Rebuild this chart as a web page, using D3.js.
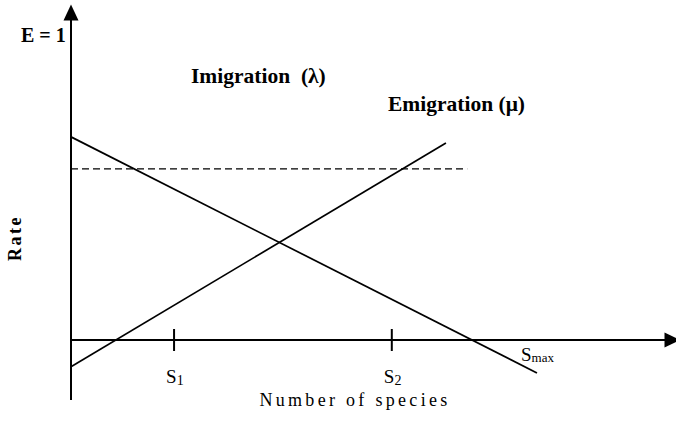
<!DOCTYPE html>
<html>
<head>
<meta charset="utf-8">
<script src="https://cdn.jsdelivr.net/npm/d3@7"></script>
<style>
  body { margin: 0; background: #fff; }
  svg { display: block; font-family: "Liberation Serif", "Times New Roman", serif; }
  .axis { stroke: #000; stroke-width: 2; fill: none; }
  .rate { stroke: #000; stroke-width: 1.7; fill: none; }
  .dash { stroke: #000; stroke-width: 1.4; stroke-dasharray: 7,4; fill: none; }
  .bold { font-weight: bold; }
</style>
</head>
<body>
<div id="chart"></div>
<script>
(function () {
  const width = 676;
  const height = 437;

  // species in units of Smax (Smax = 1), rate in units of E (E = 1)
  const immigration = [{s: 0, r: 0.666}, {s: 1.162, r: -0.108}];
  const emigration = [{s: 0, r: -0.088}, {s: 0.935, r: 0.646}];
  const equilibrium = [{s: 0, r: 0.561}, {s: 0.988, r: 0.561}];

  const tickValues = [0.257, 0.8];
  const tickLabels = [["S", "1"], ["S", "2"]];

  const axisX = [0, 1.52];
  const axisY = [-0.197, 1.1];

  const svg = d3.select("#chart").append("svg")
    .attr("width", width)
    .attr("height", height);

  const x = d3.scaleLinear().domain([0, 1]).range([71, 472]);
  const y = d3.scaleLinear().domain([0, 1]).range([340, 35]);

  const line = d3.line()
    .x(function (d) { return x(d.s); })
    .y(function (d) { return y(d.r); });

  // axes
  svg.append("line")
    .attr("class", "axis")
    .attr("x1", x(0)).attr("x2", x(0))
    .attr("y1", y(axisY[0])).attr("y2", y(axisY[1]) + 10);

  svg.append("line")
    .attr("class", "axis")
    .attr("x1", x(axisX[0])).attr("x2", x(axisX[1]) - 10)
    .attr("y1", y(0)).attr("y2", y(0));

  // arrow heads
  const ty = y(axisY[1]);
  svg.append("path")
    .attr("d", "M" + x(0) + "," + ty + " L" + (x(0) - 7.5) + "," + (ty + 16) +
      " L" + (x(0) + 7.5) + "," + (ty + 16) + " Z")
    .attr("fill", "#000");

  const tx = x(axisX[1]);
  svg.append("path")
    .attr("d", "M" + tx + "," + y(0) + " L" + (tx - 16) + "," + (y(0) - 7.5) +
      " L" + (tx - 16) + "," + (y(0) + 7.5) + " Z")
    .attr("fill", "#000");

  // S1, S2 ticks
  svg.selectAll(".tick")
    .data(tickValues)
    .enter().append("line")
    .attr("class", "axis")
    .attr("stroke-width", 1.6)
    .attr("x1", function (d) { return x(d); })
    .attr("x2", function (d) { return x(d); })
    .attr("y1", y(0) - 11)
    .attr("y2", y(0) + 11);

  const tl = svg.selectAll(".ticklabel")
    .data(tickValues)
    .enter().append("text")
    .attr("x", function (d) { return x(d) - 8; })
    .attr("y", y(0) + 43)
    .attr("font-size", 19);
  tl.append("tspan").text(function (d, i) { return tickLabels[i][0]; });
  tl.append("tspan")
    .attr("font-size", 14)
    .attr("dy", 2)
    .text(function (d, i) { return tickLabels[i][1]; });

  // rate lines
  svg.append("path").attr("class", "rate").attr("d", line(immigration));
  svg.append("path").attr("class", "rate").attr("d", line(emigration));
  svg.append("path").attr("class", "dash").attr("d", line(equilibrium));

  // labels
  svg.append("text")
    .attr("class", "bold")
    .attr("x", 21).attr("y", 42)
    .attr("font-size", 20)
    .text("E = 1");

  svg.append("text")
    .attr("class", "bold")
    .attr("x", 191).attr("y", 83)
    .attr("font-size", 21.5)
    .attr("xml:space", "preserve")
    .text("Imigration  (\u03bb)");

  svg.append("text")
    .attr("class", "bold")
    .attr("x", 388).attr("y", 111)
    .attr("font-size", 21.5)
    .text("Emigration (\u03bc)");

  const smax = svg.append("text")
    .attr("x", 521).attr("y", 361)
    .attr("font-size", 19);
  smax.append("tspan").text("S");
  smax.append("tspan").attr("font-size", 13).attr("dy", 1).text("max");

  svg.append("text")
    .attr("class", "bold")
    .attr("transform", "translate(21,238) rotate(-90)")
    .attr("text-anchor", "middle")
    .attr("font-size", 18)
    .attr("letter-spacing", 2.5)
    .text("Rate");

  svg.append("text")
    .attr("x", 355).attr("y", 406)
    .attr("text-anchor", "middle")
    .attr("font-size", 18)
    .attr("letter-spacing", 3.3)
    .text("Number of species");
})();
</script>
</body>
</html>
